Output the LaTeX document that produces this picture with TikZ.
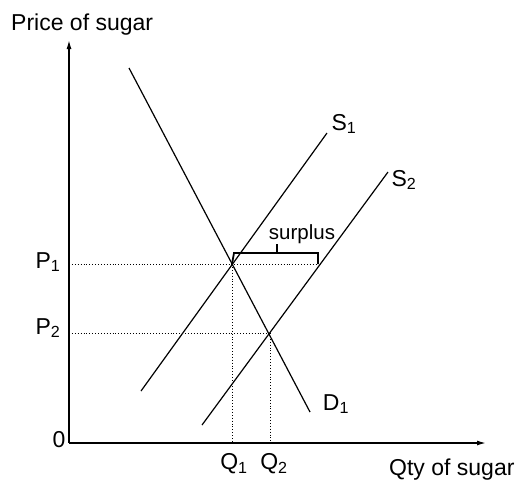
\documentclass[tikz,border=0pt]{standalone}
\usepackage{fontspec}
\setmainfont{Liberation Sans}
\usetikzlibrary{arrows.meta}
\begin{document}
\begin{tikzpicture}[x=1pt,y=-1pt,
  curve/.style={line width=1.2pt},
  axis/.style={line width=1.4pt,-{Latex[length=9pt,width=5pt]}},
  guide/.style={dotted, line width=0.9pt},
  lbl/.style={font=\fontsize{23}{27}\selectfont, inner sep=0pt},
  small/.style={font=\fontsize{20.5}{24}\selectfont, inner sep=0pt}]
\useasboundingbox (0,0) rectangle (518,488);
% axes
\coordinate (O) at (69,443);
\coordinate (ytop) at (69,40);
\coordinate (xend) at (486,443);
\draw[axis] (O) -- (ytop);
\draw[axis] (O) -- (xend);
% curves
\coordinate (d1a) at (129,68);  \coordinate (d1b) at (310,412);
\coordinate (s1a) at (141,391); \coordinate (s1b) at (327,133);
\coordinate (s2a) at (202,425); \coordinate (s2b) at (388,172);
\draw[curve] (d1a) -- (d1b);
\draw[curve] (s1a) -- (s1b);
\draw[curve] (s2a) -- (s2b);
% equilibrium points and guides
\coordinate (E1) at (232,264);
\coordinate (E2) at (270,333);
\coordinate (P1y) at (69,264);
\coordinate (P2y) at (69,333);
\coordinate (Q1x) at (232,443);
\coordinate (Q2x) at (270,443);
\coordinate (Sr) at (318,264);
\draw[guide] (P1y) -- (Sr);
\draw[guide] (P2y) -- (E2);
\draw[guide] (E1) -- (Q1x);
\draw[guide] (E2) -- (Q2x);
% surplus bracket
\coordinate (bl) at (234,253);
\coordinate (br) at (318,253);
\coordinate (bm) at (277,253);
\coordinate (bt) at (277,244);
\draw[line width=1.8pt] (E1) -- (bl) -- (br) -- (Sr);
\draw[line width=1.3pt] (bm) -- (bt);
\node[small, anchor=south] (surplus) at (302,244) {surplus};
% labels
\node[lbl, anchor=west] (ylab) at (11,25) {Price of sugar};
\node[lbl, anchor=west] (xlab) at (389,470) {Qty of sugar};
\node[lbl] (S1) at (344,124) {S\textsubscript{1}};
\node[lbl] (S2) at (404,180) {S\textsubscript{2}};
\node[lbl] (D1) at (336,404) {D\textsubscript{1}};
\node[lbl] (P1) at (48,262) {P\textsubscript{1}};
\node[lbl] (P2) at (48,328) {P\textsubscript{2}};
\node[lbl] (Q1) at (234,464) {Q\textsubscript{1}};
\node[lbl] (Q2) at (274,464) {Q\textsubscript{2}};
\node[lbl] (zero) at (59,440) {0};
\end{tikzpicture}
\end{document}
